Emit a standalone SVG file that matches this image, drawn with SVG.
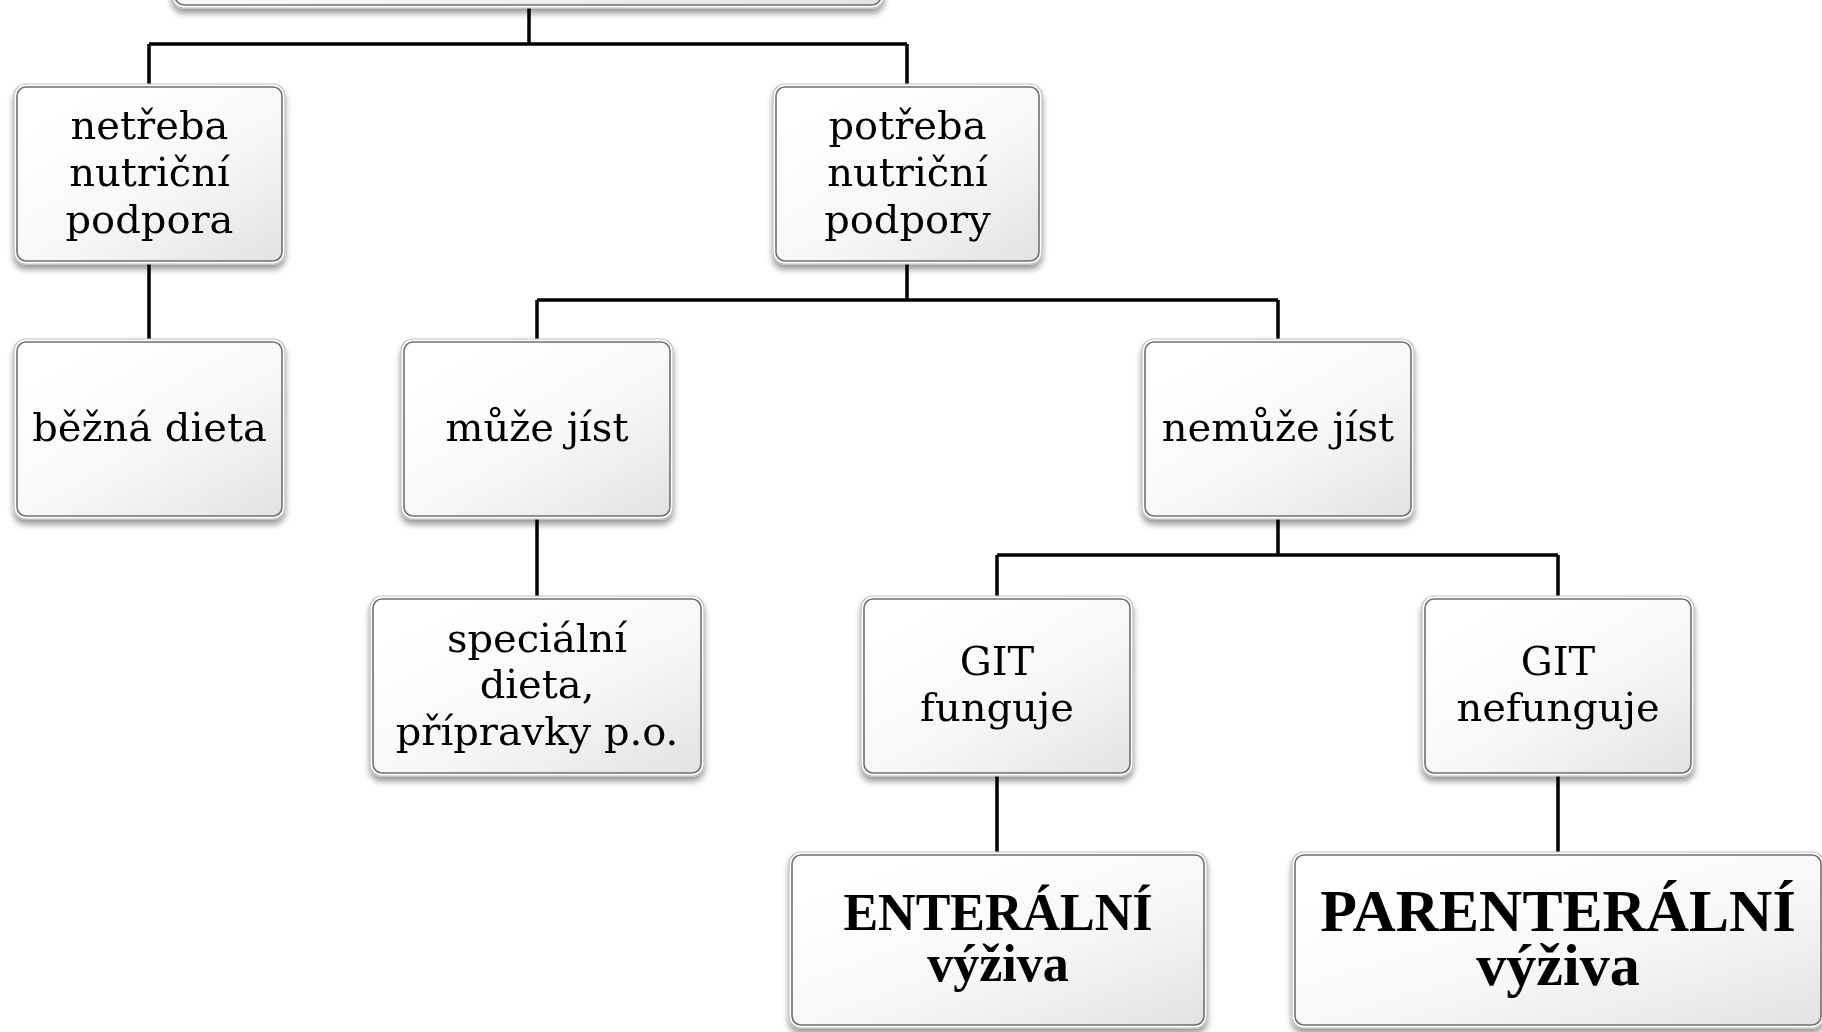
<svg xmlns="http://www.w3.org/2000/svg" width="1822" height="1032" viewBox="0 0 1822 1032">
  <defs>
    <linearGradient id="fillGrad" x1="0.2" y1="0.1" x2="1" y2="1">
      <stop offset="0" stop-color="#ffffff"/>
      <stop offset="0.5" stop-color="#f7f7f7"/>
      <stop offset="1" stop-color="#e2e2e2"/>
    </linearGradient>
    <filter id="shadow" x="-10%" y="-10%" width="120%" height="130%">
      <feGaussianBlur in="SourceAlpha" stdDeviation="3"/>
      <feOffset dx="0" dy="5" result="b"/>
      <feComponentTransfer><feFuncA type="linear" slope="0.4"/></feComponentTransfer>
      <feMerge><feMergeNode/><feMergeNode in="SourceGraphic"/></feMerge>
    </filter>
    <style>
      .halo { fill: #ffffff; stroke: #c0c0c0; stroke-width: 1.2; }
      .body { fill: url(#fillGrad); stroke: #707070; stroke-width: 1.6; }
      .conn { fill: none; stroke: #000000; stroke-width: 3.5; }
      .t { font-family: "DejaVu Serif", "Liberation Serif", serif; font-size: 40px; fill: #000; text-anchor: middle; }
      .tb { font-family: "Liberation Serif", "Times New Roman", serif; font-weight: bold; fill: #000; text-anchor: middle; }
    </style>
  </defs>

  <g id="connectors">
    <path class="conn" d="M529 8 V44 M149 44 H907 M149 44 V84 M907 44 V84"/>
    <path class="conn" d="M149 264 V339"/>
    <path class="conn" d="M907 264 V300 M537 300 H1278 M537 300 V339 M1278 300 V339"/>
    <path class="conn" d="M537 519 V596"/>
    <path class="conn" d="M1278 519 V555 M997 555 H1558 M997 555 V596 M1558 555 V596"/>
    <path class="conn" d="M997 776 V852 M1558 776 V852"/>
  </g>

  <g id="node-top" filter="url(#shadow)">
    <rect class="halo" x="172" y="-60" width="712" height="68" rx="12"/>
    <rect class="body" x="175" y="-57" width="706" height="62" rx="9"/>
  </g>

  <g id="node-netreba" filter="url(#shadow)">
    <rect class="halo" x="14" y="84" width="271" height="180" rx="12"/>
    <rect class="body" x="17" y="87" width="265" height="174" rx="9"/>
    <text class="t" x="149.5"><tspan x="149.5" y="139">netřeba</tspan><tspan x="149.5" y="186">nutriční</tspan><tspan x="149.5" y="233">podpora</tspan></text>
  </g>

  <g id="node-potreba" filter="url(#shadow)">
    <rect class="halo" x="773" y="84" width="269" height="180" rx="12"/>
    <rect class="body" x="776" y="87" width="263" height="174" rx="9"/>
    <text class="t" x="907.5"><tspan x="907.5" y="139">potřeba</tspan><tspan x="907.5" y="186">nutriční</tspan><tspan x="907.5" y="233">podpory</tspan></text>
  </g>

  <g id="node-bezna" filter="url(#shadow)">
    <rect class="halo" x="14" y="339" width="271" height="180" rx="12"/>
    <rect class="body" x="17" y="342" width="265" height="174" rx="9"/>
    <text class="t" x="149.5" y="441">běžná dieta</text>
  </g>

  <g id="node-muze" filter="url(#shadow)">
    <rect class="halo" x="401" y="339" width="272" height="180" rx="12"/>
    <rect class="body" x="404" y="342" width="266" height="174" rx="9"/>
    <text class="t" x="537" y="441">může jíst</text>
  </g>

  <g id="node-nemuze" filter="url(#shadow)">
    <rect class="halo" x="1142" y="339" width="272" height="180" rx="12"/>
    <rect class="body" x="1145" y="342" width="266" height="174" rx="9"/>
    <text class="t" x="1278" y="441">nemůže jíst</text>
  </g>

  <g id="node-specialni" filter="url(#shadow)">
    <rect class="halo" x="370" y="596" width="334" height="180" rx="12"/>
    <rect class="body" x="373" y="599" width="328" height="174" rx="9"/>
    <text class="t" x="537"><tspan x="537" y="652">speciální</tspan><tspan x="537" y="698">dieta,</tspan><tspan x="537" y="745">přípravky p.o.</tspan></text>
  </g>

  <g id="node-git-funguje" filter="url(#shadow)">
    <rect class="halo" x="861" y="596" width="272" height="180" rx="12"/>
    <rect class="body" x="864" y="599" width="266" height="174" rx="9"/>
    <text class="t" x="997"><tspan x="997" y="675">GIT</tspan><tspan x="997" y="721">funguje</tspan></text>
  </g>

  <g id="node-git-nefunguje" filter="url(#shadow)">
    <rect class="halo" x="1422" y="596" width="272" height="180" rx="12"/>
    <rect class="body" x="1425" y="599" width="266" height="174" rx="9"/>
    <text class="t" x="1558"><tspan x="1558" y="675">GIT</tspan><tspan x="1558" y="721">nefunguje</tspan></text>
  </g>

  <g id="node-enteralni" filter="url(#shadow)">
    <rect class="halo" x="789" y="852" width="418" height="176" rx="12"/>
    <rect class="body" x="792" y="855" width="412" height="170" rx="9"/>
    <text class="tb" x="998" font-size="52"><tspan x="998" y="930">ENTERÁLNÍ</tspan><tspan x="998" y="981">výživa</tspan></text>
  </g>

  <g id="node-parenteralni" filter="url(#shadow)">
    <rect class="halo" x="1292" y="852" width="532" height="176" rx="12"/>
    <rect class="body" x="1295" y="855" width="526" height="170" rx="9"/>
    <text class="tb" x="1558" font-size="60"><tspan x="1558" y="931">PARENTERÁLNÍ</tspan><tspan x="1558" y="985">výživa</tspan></text>
  </g>
</svg>
